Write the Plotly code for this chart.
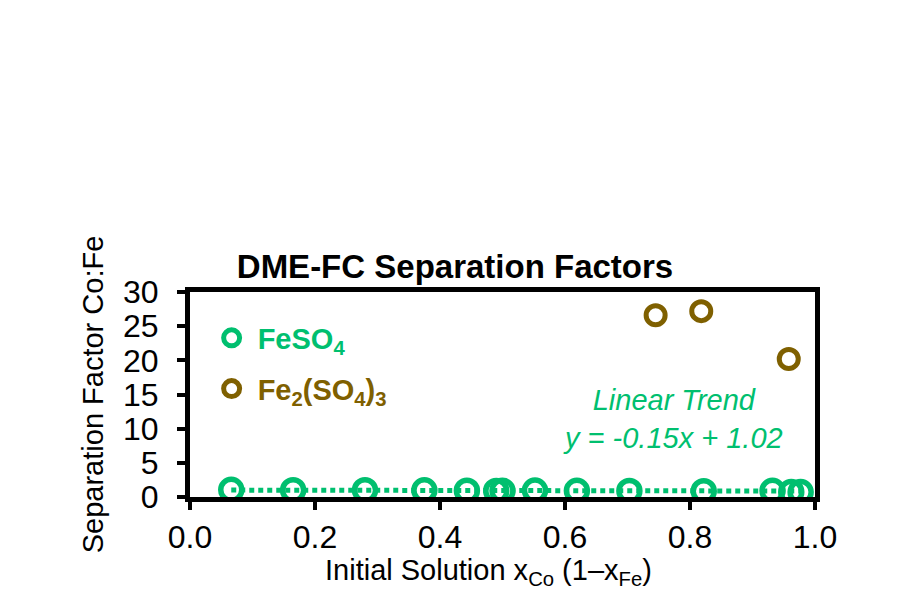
import numpy as np
import plotly.graph_objects as go

GREEN = "#00BF6F"
BROWN = "#7F6000"
FONT = "Liberation Sans, Arial, sans-serif"

# FeSO4 series
feso4_x = [0.066, 0.165, 0.280, 0.375, 0.443, 0.490, 0.500, 0.552, 0.619, 0.703, 0.822, 0.932, 0.962, 0.977]
feso4_y = [1.05, 1.00, 1.00, 0.98, 0.92, 0.88, 0.90, 0.95, 0.90, 0.88, 0.85, 0.90, 0.75, 0.72]

# Fe2(SO4)3 series
fe2so43_x = [0.745, 0.818, 0.958]
fe2so43_y = [26.6, 27.2, 20.2]

# linear trend of the FeSO4 series
trend_slope = -0.15
trend_intercept = 1.02

x_ticks = [0.0, 0.2, 0.4, 0.6, 0.8, 1.0]
y_ticks = [0, 5, 10, 15, 20, 25, 30]

trend_x = np.array([min(feso4_x), max(feso4_x)])
trend_y = trend_slope * trend_x + trend_intercept

fig = go.Figure()

fig.add_trace(go.Scatter(
    x=trend_x, y=trend_y, mode="lines",
    line=dict(color=GREEN, width=5, dash="5px,4px"),
    showlegend=False, hoverinfo="skip",
))

fig.add_trace(go.Scatter(
    x=feso4_x, y=feso4_y, mode="markers",
    name="<b><span style='color:%s'>FeSO<sub>4</sub></span></b>" % GREEN,
    marker=dict(symbol="circle-open", size=21, color=GREEN, line=dict(width=5.5, color=GREEN)),
    legendgroup="a",
))

fig.add_trace(go.Scatter(
    x=fe2so43_x, y=fe2so43_y, mode="markers",
    name="<b><span style='color:%s'>Fe<sub>2</sub>(SO<sub>4</sub>)<sub>3</sub></span></b>" % BROWN,
    marker=dict(symbol="circle-open", size=19, color=BROWN, line=dict(width=5, color=BROWN)),
    legendgroup="b",
))

fig.add_annotation(
    x=0.773, y=11.4, xref="x", yref="y",
    text="<i>Linear Trend<br>y = -0.15x + 1.02</i>",
    showarrow=False, font=dict(family=FONT, size=29, color=GREEN),
    align="center",
)

# x-axis title (sits a little left of the plot centre in the original)
fig.add_annotation(
    x=0.477, y=-0.366, xref="paper", yref="paper",
    xanchor="center", yanchor="middle",
    text="Initial Solution x<sub>Co</sub> (1\u2013x<sub>Fe</sub>)",
    showarrow=False, font=dict(family=FONT, size=29, color="black"),
)

fig.update_layout(
    width=912, height=604,
    paper_bgcolor="white", plot_bgcolor="white",
    margin=dict(l=182, r=105, t=284, b=115),
    font=dict(family=FONT, color="black"),
    title=dict(
        text="<b>DME-FC Separation Factors</b>",
        x=447 / 912, xanchor="center",
        y=1 - 258 / 604, yanchor="middle",
        font=dict(family=FONT, size=33, color="black"),
    ),
    showlegend=True,
    legend=dict(
        x=0.025, y=0.90, xanchor="left", yanchor="top",
        bgcolor="rgba(0,0,0,0)",
        font=dict(family=FONT, size=29),
        tracegroupgap=10,
        itemwidth=42,
    ),
    xaxis=dict(
        range=[0, 1], tickvals=x_ticks, ticktext=["%.1f" % v for v in x_ticks],
        showline=True, linecolor="black", linewidth=5, mirror=True,
        ticks="outside", ticklen=8, tickwidth=4, tickcolor="black",
        showgrid=False, zeroline=False,
        tickfont=dict(family=FONT, size=32, color="black"),
    ),
    yaxis=dict(
        range=[0, 30], tickvals=y_ticks,
        showline=True, linecolor="black", linewidth=5, mirror=True,
        ticks="outside", ticklen=8, tickwidth=4, tickcolor="black",
        showgrid=False, zeroline=False, ticklabelstandoff=12,
        tickfont=dict(family=FONT, size=32, color="black"),
        title=dict(text="Separation Factor Co:Fe",
                   font=dict(family=FONT, size=29, color="black"), standoff=12),
    ),
)

fig.write_html("out.html")
